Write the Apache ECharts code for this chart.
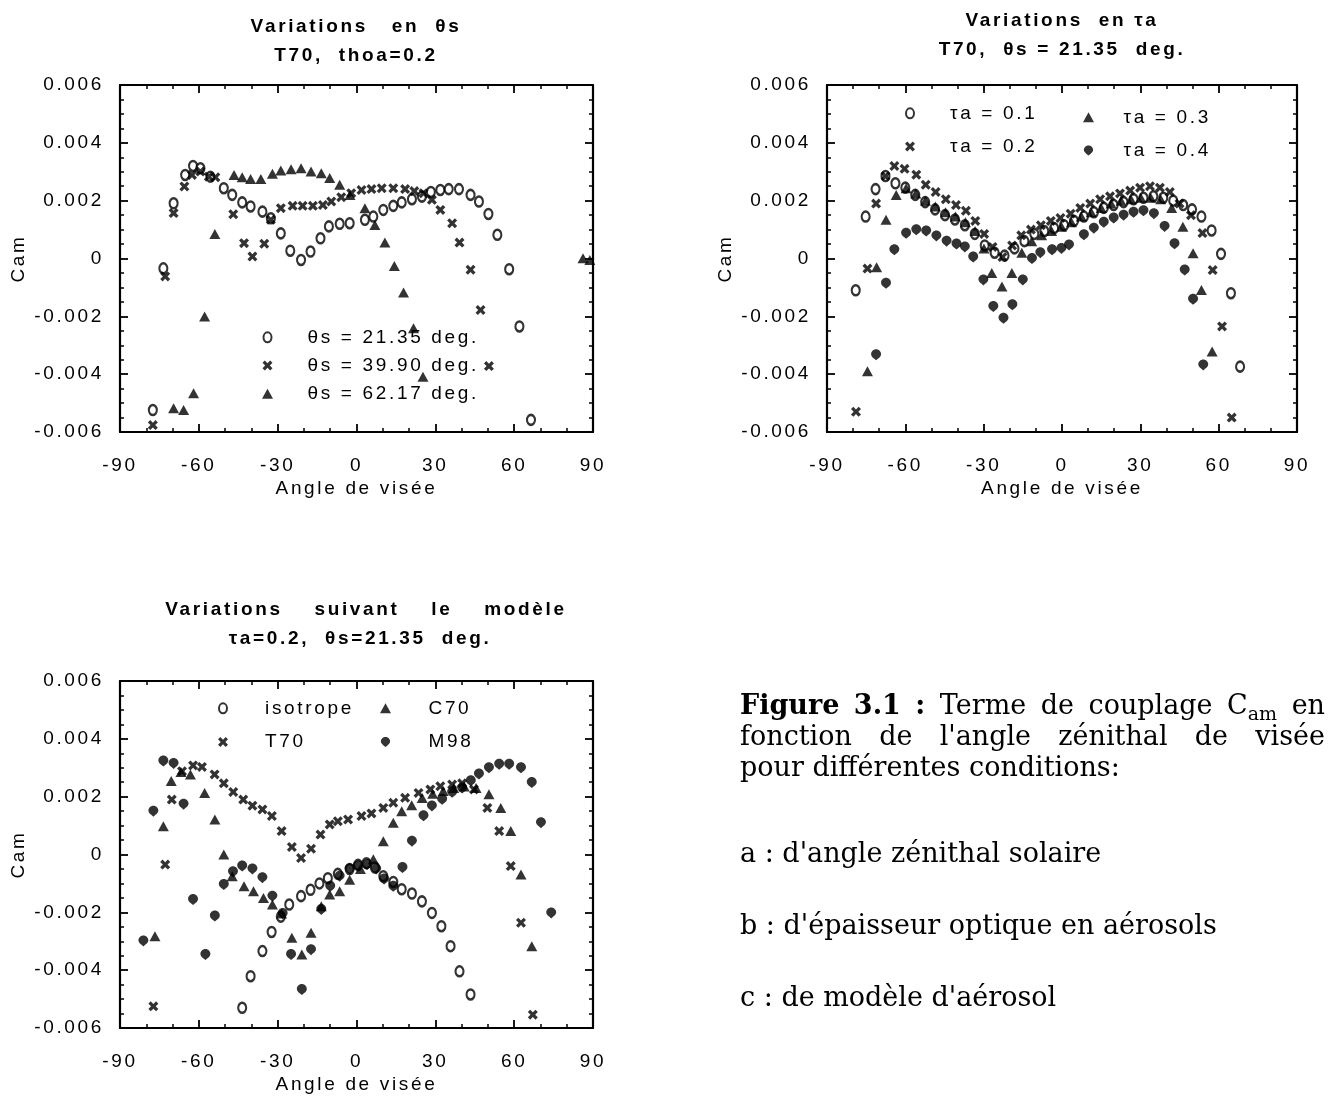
<!DOCTYPE html>
<html>
<head>
<meta charset="utf-8">
<script src="https://cdn.jsdelivr.net/npm/echarts@6/dist/echarts.min.js"></script>
<style>
  html, body { margin: 0; padding: 0; background: #fff; }
  #fig { width: 1329px; height: 1098px; }
</style>
</head>
<body>
<div id="fig"></div>
<script>
// ---------------------------------------------------------------------------
// Data: viewing angle (deg) and coupling term Cam, Cam given in units of 1e-3
// ---------------------------------------------------------------------------

// (a) variations with the solar zenith angle, T70, tau_a = 0.2
const angA1 = [-77.5,-73.5,-69.6,-65.2,-62.2,-59.4,-55.6,-50.5,-47.3,-43.5,-40.3,-35.8,-32.6,-28.8,-25.2,-21.1,-17.5,-13.7,-10.5,-6.4,-2.6,3.2,6.4,10.2,14.0,17.2,21.1,24.9,28.3,31.9,35.1,39.0,43.4,46.6,50.2,53.6,58.1,62.0,66.4];
const camA1 = [-5.24,-0.34,1.91,2.89,3.20,3.12,2.83,2.43,2.20,1.94,1.80,1.62,1.39,0.87,0.27,-0.05,0.24,0.70,1.11,1.20,1.22,1.34,1.45,1.68,1.82,1.94,2.05,2.14,2.30,2.37,2.40,2.40,2.20,1.97,1.54,0.82,-0.37,-2.35,-5.58];
const angA2 = [-77.5,-72.8,-69.6,-65.5,-62.6,-59.4,-56.2,-53.7,-46.9,-42.8,-39.6,-35.1,-32.6,-28.8,-24.3,-20.5,-16.6,-12.8,-9.6,-5.8,-2.0,1.9,5.7,9.6,14.0,18.5,22.0,25.5,28.7,31.9,36.4,39.2,43.4,47.2,50.4];
const camA2 = [-5.76,-0.62,1.57,2.49,2.89,3.01,2.83,2.81,1.53,0.53,0.07,0.51,1.34,1.74,1.82,1.82,1.82,1.85,1.97,2.12,2.26,2.37,2.40,2.43,2.43,2.40,2.33,2.26,2.03,1.68,1.22,0.55,-0.39,-1.78,-3.72];
const angA3 = [-69.6,-65.8,-62.0,-57.8,-53.9,-46.6,-43.5,-40.3,-36.4,-32.0,-28.8,-24.9,-21.1,-17.3,-13.4,-10.2,-6.4,-2.5,3.2,7.0,10.8,14.4,17.9,21.7,25.3,86.2,88.8];
const camA3 = [-5.18,-5.24,-4.66,-2.01,0.85,2.89,2.81,2.75,2.75,2.93,3.04,3.09,3.12,3.01,2.95,2.78,2.55,2.20,1.74,1.16,0.55,-0.26,-1.18,-2.41,-4.09,0.01,-0.05];

// (b) variations with the aerosol optical thickness, T70, theta_s = 21.35 deg
const angB1 = [-79,-75.2,-71.4,-67.6,-63.8,-60,-56.2,-52.4,-48.6,-44.8,-41,-37.2,-33.4,-29.6,-25.8,-22,-18.2,-14.4,-10.6,-6.8,-3,0.8,4.6,8.4,12.2,16,19.8,23.6,27.4,31.2,35,38.8,42.6,46.4,49.8,53.4,57.3,60.9,64.7,68.2];
const camB1 = [-1.1,1.45,2.4,2.85,2.6,2.45,2.2,1.95,1.7,1.5,1.35,1.15,0.85,0.45,0.2,0.1,0.35,0.6,0.85,0.95,1.05,1.15,1.3,1.45,1.6,1.75,1.85,1.95,2.05,2.1,2.15,2.1,2.0,1.85,1.7,1.45,0.97,0.16,-1.2,-3.74];
const angB2 = [-78.9,-74.5,-71.2,-67.6,-64.2,-60.3,-55.8,-52.2,-48.4,-44.5,-40.6,-36.8,-33.2,-29.8,-26.6,-22.8,-19.1,-15.6,-11.9,-8.1,-4.3,-0.6,3.3,7.0,10.8,14.6,18.4,22.2,26.1,29.9,33.7,37.5,41.3,45.0,49.4,53.8,57.7,61.3,65.0];
const camB2 = [-5.3,-0.35,1.9,2.85,3.2,3.1,2.9,2.55,2.3,2.05,1.85,1.65,1.3,0.85,0.4,0.05,0.45,0.8,1.0,1.15,1.3,1.4,1.55,1.75,1.9,2.05,2.15,2.25,2.35,2.45,2.5,2.45,2.3,1.9,1.5,0.88,-0.4,-2.35,-5.5];
const angB3 = [-74.5,-71.0,-67.4,-63.5,-59.7,-56.0,-52.3,-48.5,-44.6,-40.8,-37.0,-33.3,-29.9,-26.9,-23.0,-19.2,-15.4,-11.6,-7.8,-4.0,-0.2,3.6,7.4,11.2,15.0,18.8,22.6,26.4,30.2,34.0,37.8,42.0,46.3,50.2,53.4,57.5];
const camB3 = [-3.9,-0.3,1.34,2.2,2.43,2.25,2.0,1.8,1.6,1.45,1.25,0.95,0.35,-0.5,-0.97,-0.5,0.2,0.6,0.8,0.95,1.1,1.25,1.45,1.6,1.75,1.9,2.0,2.05,2.1,2.1,2.05,1.75,1.1,0.18,-1.09,-3.22];
const angB4 = [-71.2,-67.4,-64.2,-59.7,-55.8,-52.0,-48.1,-44.2,-40.4,-37.2,-34.0,-30.1,-26.3,-22.4,-19.0,-15.0,-11.5,-8.3,-3.8,-0.2,2.7,8.4,12.2,16.0,19.8,23.6,27.4,31.2,35.2,39.3,43.1,47.0,50.2,54.1];
const camB4 = [-3.33,-0.86,0.3,0.87,0.99,0.95,0.78,0.6,0.5,0.4,0.05,-0.74,-1.66,-2.07,-1.6,-0.74,0.0,0.2,0.3,0.35,0.47,0.82,1.05,1.25,1.4,1.5,1.6,1.65,1.55,1.11,0.51,-0.4,-1.41,-3.68];

// (c) variations with the aerosol model, tau_a = 0.2, theta_s = 21.35 deg
const angIso = [-43.5,-40.3,-35.8,-32.3,-28.8,-25.6,-21.1,-17.5,-14.1,-10.9,-7.1,-2.6,0.6,3.8,7.0,10.2,14.0,17.2,21.1,24.9,28.7,32.3,35.8,39.2,43.4];
const camIso = [-5.3,-4.21,-3.34,-2.68,-2.15,-1.73,-1.44,-1.22,-1.0,-0.82,-0.67,-0.5,-0.36,-0.3,-0.45,-0.75,-0.95,-1.2,-1.35,-1.62,-2.02,-2.48,-3.17,-4.04,-4.84];
const angT70 = [-77.3,-72.8,-70.3,-66.4,-62.2,-58.8,-54.0,-50.5,-46.9,-43.1,-39.6,-35.8,-32.2,-28.5,-24.6,-21.1,-17.3,-13.7,-10.2,-7.1,-3.2,1.9,5.7,10.2,14.0,18.5,23.6,28.1,31.9,36.4,40.2,44.7,49.8,54.3,58.7,62.6,67.1];
const camT70 = [-5.25,-0.35,1.9,2.88,3.08,3.03,2.77,2.46,2.16,1.9,1.69,1.56,1.33,0.81,0.26,-0.12,0.2,0.69,1.04,1.15,1.21,1.33,1.42,1.61,1.79,1.96,2.13,2.25,2.36,2.42,2.46,2.25,1.61,0.81,-0.4,-2.36,-5.54];
const angC70 = [-76.7,-73.5,-70.5,-66.8,-63.2,-57.8,-53.9,-50.5,-47.3,-42.8,-39.2,-35.4,-32.0,-28.5,-24.6,-20.8,-17.3,-13.4,-10.2,-6.4,-2.6,1.5,6.4,10.2,14.0,17.2,21.0,25.0,29.0,33.0,37.0,41.0,45.5,50.4,54.9,58.7,62.6,66.7];
const camC70 = [-2.83,0.98,2.54,2.85,2.77,2.13,1.21,0.0,-0.75,-1.1,-1.27,-1.5,-1.73,-2.04,-2.88,-3.46,-2.71,-1.79,-1.38,-1.27,-0.87,-0.5,-0.16,0.46,1.1,1.5,1.7,1.95,2.1,2.2,2.3,2.35,2.3,2.08,1.61,0.81,-0.69,-3.17];
const angM98 = [-81.1,-77.3,-73.5,-69.6,-65.8,-62.2,-57.5,-53.9,-50.5,-47.0,-43.5,-39.6,-35.8,-32.0,-28.1,-24.9,-20.8,-17.3,-13.4,-10.0,-6.4,-2.6,0.6,4.0,7.5,10.5,14.0,17.5,21.1,25.5,28.7,32.6,36.4,40.2,43.5,46.6,50.4,54.3,58.1,62.6,66.7,70.2,74.1];
const camM98 = [-2.99,1.5,3.23,3.15,1.74,-1.56,-3.46,-2.13,-1.04,-0.6,-0.4,-0.5,-0.8,-1.44,-2.04,-3.46,-4.67,-3.29,-1.9,-1.1,-0.75,-0.5,-0.4,-0.35,-0.5,-0.85,-1.1,-0.45,0.46,1.34,1.68,1.91,2.15,2.3,2.55,2.78,3.0,3.12,3.12,3.0,2.49,1.1,-2.02];

// axis ticks
const xTicks = { min: -90, max: 90, step: 30 };
const yTicks = { min: -0.006, max: 0.006, step: 0.002 };

// ---------------------------------------------------------------------------
// Typewriter-like tracking for the sans-serif lettering of the plots
// ---------------------------------------------------------------------------
(function () {
  const proto = window.CanvasRenderingContext2D && CanvasRenderingContext2D.prototype;
  if (!proto || !('letterSpacing' in proto)) return;
  function spacing(font) {
    if (!/sans/i.test(font)) return '0px';
    const m = /(\d+(?:\.\d+)?)px/.exec(font);
    const size = m ? parseFloat(m[1]) : 12;
    return (size * 0.14).toFixed(2) + 'px';
  }
  ['fillText', 'strokeText', 'measureText'].forEach(function (name) {
    const orig = proto[name];
    proto[name] = function () {
      this.letterSpacing = spacing(this.font);
      return orig.apply(this, arguments);
    };
  });
})();

const SANS = '"Liberation Sans", Arial, Helvetica, sans-serif';
const SERIF = '"DejaVu Serif", "Liberation Serif", serif';
const FS = 19;

// marker shapes
const MK = {
  ring:  { symbol: 'path://M4,0 A4,5 0 1,1 4,10 A4,5 0 1,1 4,0 Z', size: [8, 10],
           style: { color: '#fff', borderColor: '#000', borderWidth: 2.3 } },
  cross: { symbol: 'path://M0,2.8 L2.8,0 L6,3.2 L9.2,0 L12,2.8 L8.8,6 L12,9.2 L9.2,12 L6,8.8 L2.8,12 L0,9.2 L3.2,6 Z',
           size: 10, style: { color: '#000' } },
  tri:   { symbol: 'path://M5.5,0 L11,10 L0,10 Z', size: [11, 10], style: { color: '#000' } },
  drop:  { symbol: 'path://M6,0 C9.3,0 12,2.6 12,5.8 C12,8.5 9,10.6 6,13 C3,10.6 0,8.5 0,5.8 C0,2.6 2.7,0 6,0 Z',
           size: [10, 11], style: { color: '#000' } }
};

function scatter(name, grid, xs, ys, mk) {
  return {
    type: 'scatter', name: name,
    xAxisIndex: grid * 2, yAxisIndex: grid * 2,
    data: xs.map(function (x, i) { return [x, ys[i] * 1e-3]; }),
    symbol: mk.symbol, symbolSize: mk.size, symbolKeepAspect: false,
    itemStyle: mk.style,
    emphasis: { disabled: true },
    silent: true
  };
}

const grids = [
  { left: 120, top: 85, width: 473, height: 347 },
  { left: 827, top: 85, width: 470, height: 347 },
  { left: 120, top: 681, width: 473, height: 347 }
];

const tickStyle = { inside: true, length: 8, lineStyle: { color: '#000', width: 1.8 } };
const minorStyle = { length: 4, lineStyle: { color: '#000', width: 1.5 } };
const frame = { show: true, onZero: false, lineStyle: { color: '#000', width: 2.2 } };
const labelFont = { color: '#000', fontSize: FS, fontFamily: SANS };

const xAxes = [], yAxes = [];
grids.forEach(function (g, i) {
  ['bottom', 'top'].forEach(function (pos) {
    xAxes.push({
      type: 'value', gridIndex: i, position: pos,
      min: xTicks.min, max: xTicks.max, interval: xTicks.step,
      axisLine: frame, axisTick: tickStyle,
      minorTick: Object.assign({ show: true, splitNumber: 3 }, minorStyle),
      splitLine: { show: false },
      axisLabel: pos === 'bottom'
        ? Object.assign({ show: true, margin: 23 }, labelFont)
        : { show: false },
      name: pos === 'bottom' ? 'Angle de visée' : '',
      nameLocation: 'middle', nameGap: 45,
      nameTextStyle: labelFont
    });
  });
  ['left', 'right'].forEach(function (pos) {
    yAxes.push({
      type: 'value', gridIndex: i, position: pos,
      min: yTicks.min, max: yTicks.max, interval: yTicks.step,
      axisLine: frame, axisTick: tickStyle,
      minorTick: Object.assign({ show: true, splitNumber: 4 }, minorStyle),
      splitLine: { show: false },
      axisLabel: pos === 'left'
        ? Object.assign({ show: true, margin: 16,
            formatter: function (v) { return Math.abs(v) < 1e-12 ? '0' : v.toFixed(3); } }, labelFont)
        : { show: false },
      name: pos === 'left' ? 'Cam' : '',
      nameLocation: 'middle', nameGap: 90,
      nameTextStyle: labelFont
    });
  });
});

const series = [
  scatter('θs = 21.35 deg.', 0, angA1, camA1, MK.ring),
  scatter('θs = 39.90 deg.', 0, angA2, camA2, MK.cross),
  scatter('θs = 62.17 deg.', 0, angA3, camA3, MK.tri),
  scatter('τa = 0.1', 1, angB1, camB1, MK.ring),
  scatter('τa = 0.2', 1, angB2, camB2, MK.cross),
  scatter('τa = 0.3', 1, angB3, camB3, MK.tri),
  scatter('τa = 0.4', 1, angB4, camB4, MK.drop),
  scatter('isotrope', 2, angIso, camIso, MK.ring),
  scatter('T70', 2, angT70, camT70, MK.cross),
  scatter('C70', 2, angC70, camC70, MK.tri),
  scatter('M98', 2, angM98, camM98, MK.drop)
];

// legend block: centre of the marker column, start of the text column, top row centre, row pitch
function legend(names, iconX, textX, rowY, pitch) {
  const textH = FS + 2;
  const box = 2 * (textX - iconX - 5);
  return {
    data: names, orient: 'vertical',
    left: iconX - 5, top: rowY - textH / 2,
    itemWidth: box, itemHeight: 10, itemGap: pitch - textH,
    selectedMode: false, padding: 0,
    textStyle: { color: '#000', fontSize: FS, fontFamily: SANS }
  };
}

const legends = [
  legend(['θs = 21.35 deg.', 'θs = 39.90 deg.', 'θs = 62.17 deg.'], 267, 307, 337, 27.5),
  legend(['τa = 0.1', 'τa = 0.2'], 910, 950, 113, 32.5),
  legend(['τa = 0.3', 'τa = 0.4'], 1088, 1123, 117, 32.5),
  legend(['isotrope', 'T70'], 223, 265, 708, 33),
  legend(['C70', 'M98'], 385, 428, 708, 33)
];

// panel titles
function title(text, x, y) {
  return {
    type: 'text', x: x, y: y, silent: true,
    style: { text: text, fill: '#000', font: 'bold ' + FS + 'px ' + SANS,
             align: 'center', textAlign: 'center', verticalAlign: 'middle', textVerticalAlign: 'middle' }
  };
}
const graphics = [
  title('Variations   en  θs', 356, 27),
  title('T70,  thoa=0.2', 356, 56),
  title('Variations  en τa', 1062, 21),
  title('T70,  θs = 21.35  deg.', 1062, 50),
  title('Variations    suivant    le    modèle', 366, 610),
  title('τa=0.2,  θs=21.35  deg.', 360, 639)
];

// figure caption (serif, first two lines justified)
const CAP_SIZE = 27;
const capFont = CAP_SIZE + 'px ' + SERIF;
const capBold = 'bold ' + CAP_SIZE + 'px ' + SERIF;
const subFont = Math.round(CAP_SIZE * 0.7) + 'px ' + SERIF;
const mctx = document.createElement('canvas').getContext('2d');
function textWidth(t, f) { mctx.font = f; return mctx.measureText(t).width; }

function captionText(t, x, y, f) {
  return {
    type: 'text', x: x, y: y, silent: true,
    style: { text: t, fill: '#000', font: f, align: 'left', textAlign: 'left',
             verticalAlign: 'middle', textVerticalAlign: 'middle' }
  };
}

function captionLine(words, x0, y, width) {
  const w = words.map(function (wd) {
    return textWidth(wd.t, wd.bold ? capBold : capFont) + (wd.sub ? textWidth(wd.sub, subFont) : 0);
  });
  const total = w.reduce(function (a, b) { return a + b; }, 0);
  const gap = width ? (width - total) / (words.length - 1) : textWidth(' ', capFont);
  let x = x0;
  words.forEach(function (wd, i) {
    const f = wd.bold ? capBold : capFont;
    graphics.push(captionText(wd.t, x, y, f));
    if (wd.sub) {
      graphics.push(captionText(wd.sub, x + textWidth(wd.t, f), y + 8, subFont));
    }
    x += w[i] + gap;
  });
}
function words(str, extra) {
  return str.split(' ').map(function (t) { return Object.assign({ t: t }, extra || {}); });
}

captionLine(words('Figure 3.1 :', { bold: true })
  .concat(words('Terme de couplage'))
  .concat([{ t: 'C', sub: 'am' }, { t: 'en' }]), 740, 707, 585);
captionLine(words("fonction de l'angle zénithal de visée"), 740, 738, 585);
captionLine(words('pour différentes conditions:'), 740, 769, 0);
captionLine(words("a : d'angle zénithal solaire"), 740, 855, 0);
captionLine(words("b : d'épaisseur optique en aérosols"), 740, 927, 0);
captionLine(words("c : de modèle d'aérosol"), 740, 999, 0);

const chart = echarts.init(document.getElementById('fig'), null, { renderer: 'canvas' });
chart.setOption({
  backgroundColor: '#fff',
  animation: false,
  textStyle: { fontFamily: SANS },
  grid: grids,
  xAxis: xAxes,
  yAxis: yAxes,
  legend: legends,
  series: series,
  graphic: graphics
});
</script>
</body>
</html>
